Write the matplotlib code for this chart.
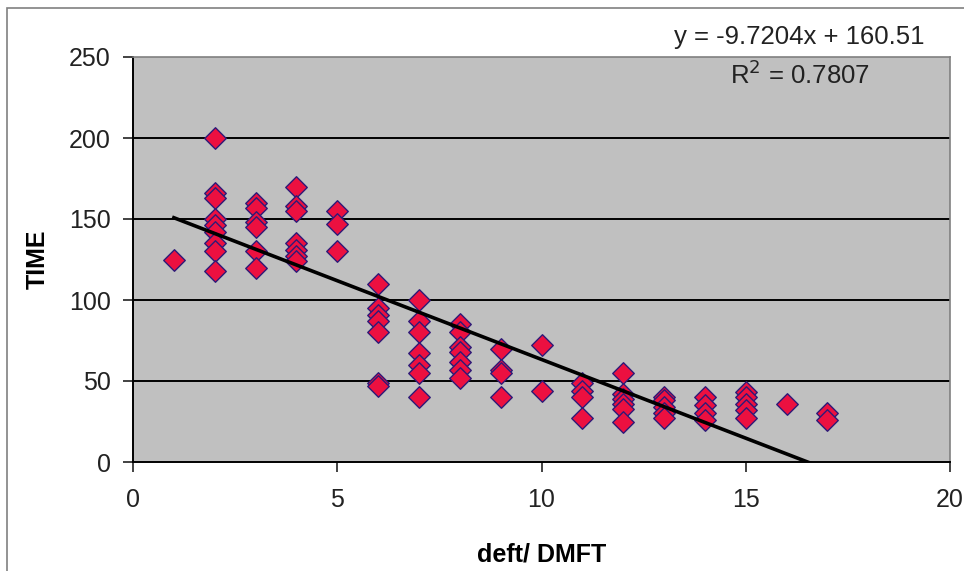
import matplotlib
matplotlib.use("Agg")
import matplotlib.pyplot as plt
from matplotlib.patches import Rectangle
import numpy as np

plt.rcParams['font.family'] = ['Liberation Sans', 'DejaVu Sans']

# data: (deft/DMFT, TIME)
dmft_values = {
    1: [125],
    2: [200, 166, 163, 150, 146, 142, 135, 130, 118],
    3: [160, 157, 148, 145, 130, 120],
    4: [170, 158, 155, 135, 131, 127, 124],
    5: [155, 147, 130],
    6: [110, 95, 91, 87, 80, 49, 47],
    7: [100, 87, 80, 67, 60, 55, 40],
    8: [85, 80, 71, 68, 62, 57, 52],
    9: [70, 57, 55, 40],
    10: [72, 44],
    11: [49, 44, 40, 27],
    12: [55, 42, 39, 36, 33, 25],
    13: [40, 38, 34, 30, 27],
    14: [40, 35, 30, 26],
    15: [43, 40, 36, 32, 27],
    16: [36],
    17: [30, 26],
}
x_data = [k for k, vs in dmft_values.items() for _ in vs]
y_data = [v for vs in dmft_values.values() for v in vs]

slope = -9.7204
intercept = 160.51
r_squared = 0.7807

x_ticks = [0, 5, 10, 15, 20]
y_ticks = [0, 50, 100, 150, 200, 250]

fig = plt.figure(figsize=(9.64, 5.71), dpi=100)
fig.patch.set_facecolor('white')

# outer chart frame
fig.patches.append(Rectangle((7/964, -0.1), 1.2, 1 - 8/571 + 0.1, transform=fig.transFigure,
                             fill=False, edgecolor='#808080', linewidth=1.2))

ax = fig.add_axes([133/964, (571-462)/571, (950-133)/964, (462-57)/571])
ax.set_facecolor('#C0C0C0')
ax.set_xlim(0, 20)
ax.set_ylim(0, 250)

for yv in y_ticks[1:-1]:
    ax.axhline(yv, color='black', linewidth=1.4, zorder=1)

ax.scatter(x_data, y_data, marker='D', s=120, facecolor='#EC1040',
           edgecolor='#2E1A78', linewidth=1.0, zorder=3)

xl = np.array([min(x_data), max(x_data)])
ax.plot(xl, slope * xl + intercept, color='black', linewidth=2.6, zorder=4, clip_on=True)

ax.set_xticks(x_ticks)
ax.set_yticks(y_ticks)
ax.tick_params(axis='both', direction='out', length=7, width=1.2, labelsize=18,
               colors='#222222', pad=9)
ax.tick_params(axis='x', pad=12)
for s in ['left', 'bottom']:
    ax.spines[s].set_color('black')
    ax.spines[s].set_linewidth(1.4)
for s in ['top', 'right']:
    ax.spines[s].set_color('#808080')
    ax.spines[s].set_linewidth(1.2)

ax.set_xlabel('deft/ DMFT', fontsize=18, fontweight='bold', labelpad=22)
ax.set_ylabel('TIME', fontsize=18, fontweight='bold', labelpad=14)

fig.text(799/964, 1 - 37/571, f'y = {slope}x + {intercept}', fontsize=18.5,
         ha='center', va='center', color='#222222')
fig.text(800/964, 1 - 75/571, f'R$^2$ = {r_squared}', fontsize=18.5,
         ha='center', va='center', color='#222222')

fig.savefig('out.png', dpi=100)
